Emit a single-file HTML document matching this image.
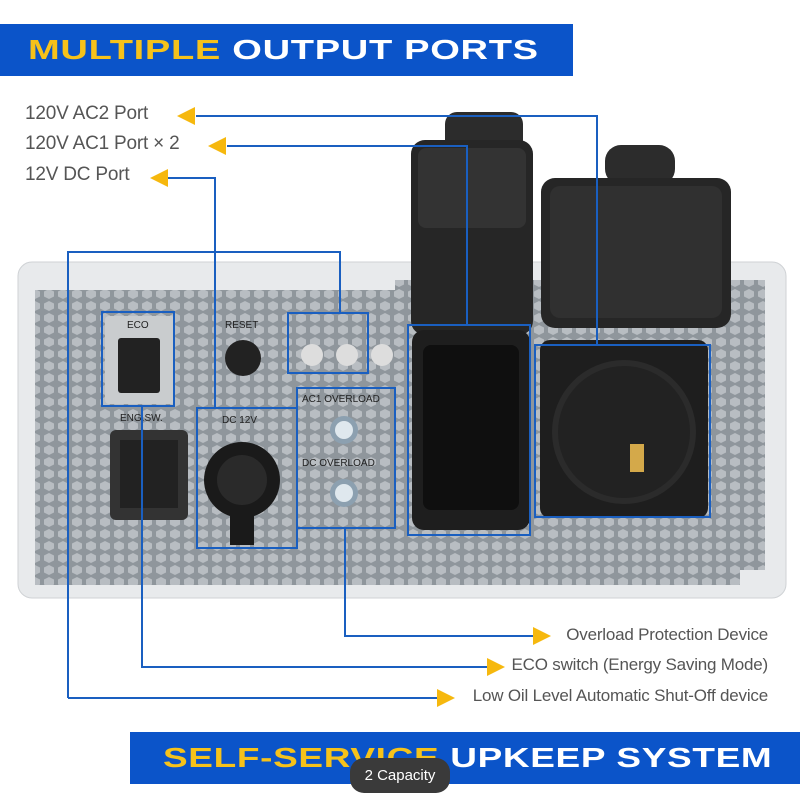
<!DOCTYPE html>
<html><head><style>
body{margin:0;width:800px;height:802px;background:#fff;position:relative;overflow:hidden;font-family:"Liberation Sans",sans-serif}
.a{position:absolute}
.lbl{position:absolute;color:#555;font-size:19px;letter-spacing:-0.2px;white-space:nowrap}
.bar{position:absolute;background:#0b54c9}
.h{font-family:"Liberation Sans",sans-serif;font-weight:900;font-size:28px;letter-spacing:0.5px;position:absolute;transform-origin:left center;white-space:nowrap}
</style></head><body>
<div class="bar" style="left:0;top:24px;width:573px;height:52px"></div>
<div class="h" style="left:28px;top:34px;transform:scaleX(1.36)"><span style="color:#f6c21a">MULTIPLE</span> <span style="color:#fff">OUTPUT PORTS</span></div>
<div class="bar" style="left:130px;top:732px;width:670px;height:52px"></div>
<div class="h" style="left:163px;top:742px;transform:scaleX(1.32)"><span style="color:#f6c21a">SELF-SERVICE</span> <span style="color:#fff">UPKEEP SYSTEM</span></div>
<div class="a" style="left:350px;top:758px;width:100px;height:35px;border-radius:14px;background:#3a3a3a;color:#fff;font-size:15px;text-align:center;line-height:35px">2 Capacity</div>

<div class="lbl" style="left:25px;top:103px">120V AC2 Port</div>
<div class="lbl" style="left:25px;top:133px">120V AC1 Port × 2</div>
<div class="lbl" style="left:25px;top:164px">12V DC Port</div>
<div class="lbl" style="right:32px;top:625px;font-size:17px">Overload Protection Device</div>
<div class="lbl" style="right:32px;top:655px;font-size:17px">ECO switch (Energy Saving Mode)</div>
<div class="lbl" style="right:32px;top:686px;font-size:17px">Low Oil Level Automatic Shut-Off device</div>

<svg class="a" style="left:0;top:0" width="800" height="802">
<defs><pattern id="hx" width="14" height="12" patternUnits="userSpaceOnUse"><rect width="14" height="12" fill="#8f969c"/><polygon points="7,1 12,3.5 12,8.5 7,11 2,8.5 2,3.5" fill="#b8bdc2"/></pattern></defs>
<rect x="18" y="262" width="768" height="336" rx="14" fill="#e8eaec" stroke="#cfd2d5"/>
<polygon points="35,290 395,290 395,280 765,280 765,570 740,570 740,585 35,585" fill="url(#hx)"/>
<rect x="445" y="112" width="78" height="40" rx="12" fill="#2c2c2c"/>
<rect x="411" y="140" width="122" height="195" rx="14" fill="#262626"/>
<rect x="418" y="148" width="108" height="80" rx="8" fill="#333"/>
<rect x="605" y="145" width="70" height="40" rx="16" fill="#2c2c2c"/>
<rect x="541" y="178" width="190" height="150" rx="14" fill="#262626"/>
<rect x="550" y="186" width="172" height="132" rx="10" fill="#303030"/>
<rect x="412" y="330" width="118" height="200" rx="12" fill="#1e1e1e"/>
<rect x="423" y="345" width="96" height="165" rx="8" fill="#0f0f0f"/>
<rect x="540" y="340" width="168" height="178" rx="10" fill="#1e1e1e"/>
<circle cx="624" cy="432" r="72" fill="#2b2b2b"/>
<circle cx="624" cy="432" r="66" fill="#222"/>
<rect x="630" y="444" width="14" height="28" fill="#d4a94a"/>
<rect x="105" y="316" width="70" height="88" rx="4" fill="#c9ccce"/>
<rect x="118" y="338" width="42" height="55" rx="3" fill="#222"/>
<rect x="110" y="430" width="78" height="90" rx="6" fill="#333"/>
<rect x="120" y="440" width="58" height="68" fill="#222"/>
<circle cx="243" cy="358" r="18" fill="#222"/>
<circle cx="242" cy="480" r="38" fill="#1a1a1a"/>
<circle cx="242" cy="480" r="25" fill="#2a2a2a"/>
<rect x="230" y="505" width="24" height="40" fill="#1a1a1a"/>
<circle cx="312" cy="355" r="11" fill="#ddd"/><circle cx="347" cy="355" r="11" fill="#ddd"/><circle cx="382" cy="355" r="11" fill="#ddd"/>
<circle cx="344" cy="430" r="14" fill="#8ca0b0"/><circle cx="344" cy="430" r="9" fill="#dfe8ee"/>
<circle cx="344" cy="493" r="14" fill="#8ca0b0"/><circle cx="344" cy="493" r="9" fill="#dfe8ee"/>
<text x="127" y="328" font-size="10" fill="#222" font-family="Liberation Sans">ECO</text>
<text x="225" y="328" font-size="10" fill="#222" font-family="Liberation Sans">RESET</text>
<text x="120" y="421" font-size="10" fill="#222" font-family="Liberation Sans">ENG.SW.</text>
<text x="222" y="423" font-size="10" fill="#222" font-family="Liberation Sans">DC 12V</text>
<text x="302" y="402" font-size="10" fill="#222" font-family="Liberation Sans">AC1 OVERLOAD</text>
<text x="302" y="466" font-size="10" fill="#222" font-family="Liberation Sans">DC OVERLOAD</text>
<g fill="none" stroke="#1a5fc0" stroke-width="2">
<rect x="102" y="312" width="72" height="94"/>
<rect x="197" y="408" width="100" height="140"/>
<rect x="288" y="313" width="80" height="60"/>
<rect x="297" y="388" width="98" height="140"/>
<rect x="408" y="325" width="122" height="210"/>
<rect x="535" y="345" width="175" height="172"/>
<polyline points="196,116 597,116 597,345"/>
<polyline points="227,146 467,146 467,325"/>
<polyline points="168,178 215,178 215,408"/>
<polyline points="68,698 68,252 340,252 340,313"/>
<polyline points="142,406 142,667 490,667"/>
<polyline points="345,528 345,636 535,636"/>
<line x1="68" y1="698" x2="440" y2="698"/>
</g>
<g fill="#f6b80e">
<polygon points="177,116 195,107 195,125"/>
<polygon points="208,146 226,137 226,155"/>
<polygon points="150,178 168,169 168,187"/>
<polygon points="551,636 533,627 533,645"/>
<polygon points="505,667 487,658 487,676"/>
<polygon points="455,698 437,689 437,707"/>
</g>
</svg>
</body></html>
